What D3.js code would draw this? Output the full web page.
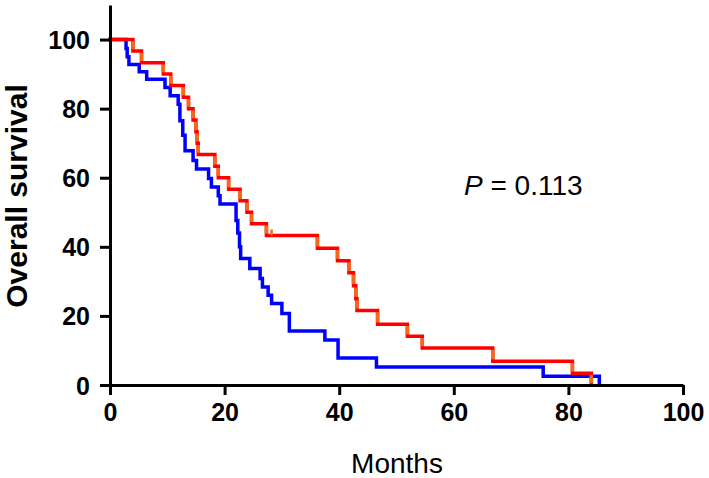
<!DOCTYPE html>
<html>
<head>
<meta charset="utf-8">
<script src="https://cdn.jsdelivr.net/npm/d3@7"></script>
<style>
html,body{margin:0;padding:0;background:#fff;}
svg{display:block;}
</style>
</head>
<body>
<svg id="chart" width="709" height="478"></svg>
<script>
// ---- Data ----
const xTicks = [0, 20, 40, 60, 80, 100];
const yTicks = [0, 20, 40, 60, 80, 100];

// Red group: event times (months) and survival (%) after each step
const redTimes = [0, 4.0, 5.5, 9.3, 10.6, 12.8, 13.7, 14.5, 15.0, 15.2, 15.4, 18.3, 18.9, 20.7, 22.7, 23.9, 24.7, 27.3, 36.2, 39.7, 41.7, 42.5, 42.9, 43.1, 46.7, 51.9, 54.5, 66.8, 80.7, 84.0];
const redSurv  = [100, 96.7, 93.3, 90.0, 86.7, 83.3, 80.0, 76.7, 73.3, 70.0, 66.7, 63.3, 60.0, 56.7, 53.3, 50.0, 46.7, 43.3, 39.6, 36.0, 32.5, 28.7, 25.0, 21.6, 17.6, 14.1, 10.7, 6.9, 3.4, 0];
const redCensor = [28.2];

// Blue group
const blueTimes = [0, 2.8, 3.0, 3.3, 5.1, 6.4, 9.6, 10.5, 11.9, 12.2, 12.7, 13.1, 14.5, 15.1, 17.2, 17.7, 18.9, 19.2, 22.0, 22.3, 22.6, 22.8, 24.4, 26.2, 26.6, 27.6, 28.2, 30.0, 31.3, 37.5, 39.8, 46.5, 75.6, 85.4];
const blueSurv  = [100, 97.4, 95.0, 92.8, 90.7, 88.5, 86.1, 83.7, 81.3, 76.5, 72.3, 67.8, 65.0, 62.5, 59.8, 57.3, 54.8, 52.4, 47.6, 44.0, 40.0, 36.6, 33.7, 30.8, 28.4, 26.0, 23.6, 20.7, 15.6, 13.0, 7.8, 5.2, 2.5, 0];

const pLabel = "= 0.113";

// ---- Layout ----
const svg = d3.select("#chart");
const x = d3.scaleLinear().domain([0, 100]).range([110, 683]);
const y = d3.scaleLinear().domain([0, 110]).range([385, 5]);

const font = "'Liberation Sans', Arial, Helvetica, sans-serif";

function stepPoints(times, surv) {
  const pts = [];
  for (let i = 0; i < times.length; i++) {
    if (i > 0) pts.push([times[i], surv[i - 1]]);
    pts.push([times[i], surv[i]]);
  }
  return pts;
}
const line = d3.line().x(d => x(d[0])).y(d => y(d[1]));

// Blue curve
svg.append("path")
  .attr("d", line(stepPoints(blueTimes, blueSurv)))
  .attr("fill", "none").attr("stroke", "#0000ff")
  .attr("stroke-width", 3.5).attr("stroke-linejoin", "miter").attr("stroke-linecap", "square");

// Red curve
svg.append("path")
  .attr("d", line(stepPoints(redTimes, redSurv)))
  .attr("fill", "none").attr("stroke", "#ff0000")
  .attr("stroke-width", 3.5).attr("stroke-linejoin", "miter").attr("stroke-linecap", "square");

// Orange verticals on red curve
const redVerts = redTimes.slice(1).map((t, i) => ({t: t, y0: redSurv[i], y1: redSurv[i + 1]}));
svg.append("g").selectAll("line").data(redVerts).join("line")
  .attr("x1", d => x(d.t)).attr("x2", d => x(d.t))
  .attr("y1", d => y(d.y0) + 1.8).attr("y2", d => y(d.y1) - 1.8)
  .attr("stroke", "#f26a1b").attr("stroke-width", 3.5);

// Censor ticks
function survAt(times, surv, t) {
  let v = surv[0];
  for (let i = 0; i < times.length; i++) if (times[i] <= t) v = surv[i];
  return v;
}
svg.append("g").selectAll("line").data(redCensor).join("line")
  .attr("x1", d => x(d)).attr("x2", d => x(d))
  .attr("y1", d => y(survAt(redTimes, redSurv, d)))
  .attr("y2", d => y(survAt(redTimes, redSurv, d)) - 6)
  .attr("stroke", "#f26a1b").attr("stroke-width", 2.5);

// Axes
const xAxis = d3.axisBottom(x).tickValues(xTicks).tickSize(10).tickPadding(8).tickSizeOuter(0);
const yAxis = d3.axisLeft(y).tickValues(yTicks).tickSize(10).tickPadding(10).tickSizeOuter(0);

const gx = svg.append("g").attr("transform", "translate(0,385)").call(xAxis);
const gy = svg.append("g").attr("transform", "translate(110,0)").call(yAxis);

[gx, gy].forEach(g => {
  g.select(".domain").attr("stroke", "#000").attr("stroke-width", 3);
  g.selectAll(".tick line").attr("stroke", "#000").attr("stroke-width", 3);
  g.selectAll(".tick text")
    .attr("fill", "#000")
    .style("font-family", font)
    .style("font-size", "25px")
    .style("font-weight", "bold");
});
gy.selectAll(".tick text").attr("dy", "0.36em");

// Axis titles
svg.append("text")
  .attr("x", 397).attr("y", 473)
  .attr("text-anchor", "middle")
  .style("font-family", font).style("font-size", "28px")
  .attr("fill", "#000")
  .text("Months");

svg.append("text")
  .attr("transform", "translate(27,196) rotate(-90)")
  .attr("text-anchor", "middle")
  .style("font-family", font).style("font-size", "30px").style("font-weight", "bold")
  .attr("fill", "#000")
  .text("Overall survival");

// P value
const pt = svg.append("text")
  .attr("x", 464).attr("y", 195)
  .style("font-family", font).style("font-size", "28px")
  .attr("fill", "#000");
pt.append("tspan").style("font-style", "italic").text("P");
pt.append("tspan").text(" " + pLabel);
</script>
</body>
</html>
